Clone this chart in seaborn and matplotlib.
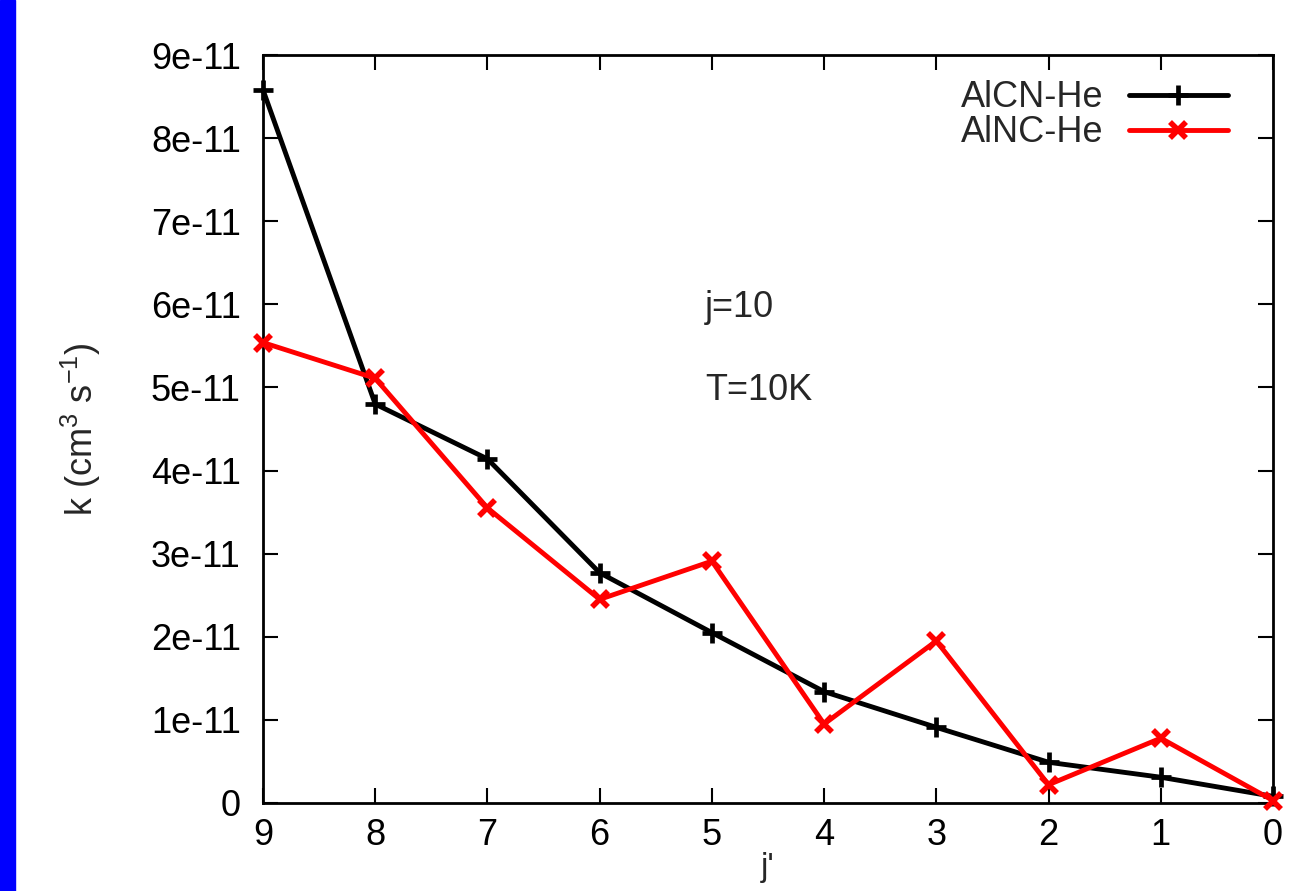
import matplotlib
matplotlib.use("Agg")
import matplotlib.pyplot as plt
import matplotlib.patches as mpatches
import seaborn as sns
import pandas as pd

j_prime = [9, 8, 7, 6, 5, 4, 3, 2, 1, 0]
alcn_he = [8.58e-11, 4.80e-11, 4.14e-11, 2.77e-11, 2.05e-11, 1.34e-11, 0.91e-11, 0.49e-11, 0.31e-11, 0.08e-11]
alnc_he = [5.54e-11, 5.11e-11, 3.55e-11, 2.45e-11, 2.91e-11, 0.95e-11, 1.95e-11, 0.22e-11, 0.78e-11, 0.03e-11]
y_ticks = [0, 1e-11, 2e-11, 3e-11, 4e-11, 5e-11, 6e-11, 7e-11, 8e-11, 9e-11]
y_tick_labels = ["0", "1e-11", "2e-11", "3e-11", "4e-11", "5e-11", "6e-11", "7e-11", "8e-11", "9e-11"]

sns.set_theme(style="ticks")
plt.rcParams['font.family'] = ['Liberation Sans', 'DejaVu Sans']
plt.rcParams['mathtext.fontset'] = 'custom'
plt.rcParams['mathtext.rm'] = 'Liberation Sans'
plt.rcParams['mathtext.it'] = 'Liberation Sans'
plt.rcParams['axes.unicode_minus'] = False

fig = plt.figure(figsize=(12.99, 8.91), dpi=100)
fig.patches.append(mpatches.Rectangle((0, 0), 15 / 1299, 1, transform=fig.transFigure,
                                      color="#0000ff", zorder=0))
ax = fig.add_axes([263 / 1299, 1 - 803 / 891, (1273 - 263) / 1299, (803 - 55) / 891])

df = pd.DataFrame({"j": j_prime, "AlCN-He": alcn_he, "AlNC-He": alnc_he})
sns.lineplot(data=df, x="j", y="AlCN-He", ax=ax, color="black", linewidth=3.5, marker="+",
             markersize=14, markeredgewidth=3.4, markeredgecolor="black",
             label="AlCN-He", clip_on=False, zorder=3)
sns.lineplot(data=df, x="j", y="AlNC-He", ax=ax, color="#ff0000", linewidth=3.5, marker="x",
             markersize=12, markeredgewidth=4, markeredgecolor="#ff0000",
             label="AlNC-He", clip_on=False, zorder=3)

ax.set_xlim(9, 0)
ax.set_ylim(0, 9e-11)
ax.set_xticks(j_prime)
ax.set_xticklabels([str(v) for v in j_prime])
ax.set_yticks(y_ticks)
ax.set_yticklabels(y_tick_labels)
ax.tick_params(direction="in", length=11, width=1.5, top=True, right=True,
               labelsize=26, colors="black")
ax.tick_params(axis="y", pad=16)
ax.tick_params(axis="x", pad=11)
for s in ax.spines.values():
    s.set_linewidth(2)
    s.set_color("black")

ax.set_ylabel(r"k (cm$^{3}$ s$^{-1}$)", fontsize=26)
ax.yaxis.set_label_coords(-0.158, 0.5)
ax.set_xlabel("j'", fontsize=24)
ax.xaxis.set_label_coords(0.5, -0.066)

ax.text(0.4376, 0.663, "j=10", transform=ax.transAxes, fontsize=26, va="center", ha="left")
ax.text(0.4376, 0.552, "T=10K", transform=ax.transAxes, fontsize=26, va="center", ha="left")

ax.legend(loc="upper right", frameon=False, markerfirst=False, fontsize=26,
          handlelength=2.75, borderaxespad=0.4, labelspacing=0.0, handletextpad=0.7,
          bbox_to_anchor=(0.984, 1.005))

fig.savefig("out.png", dpi=100)
